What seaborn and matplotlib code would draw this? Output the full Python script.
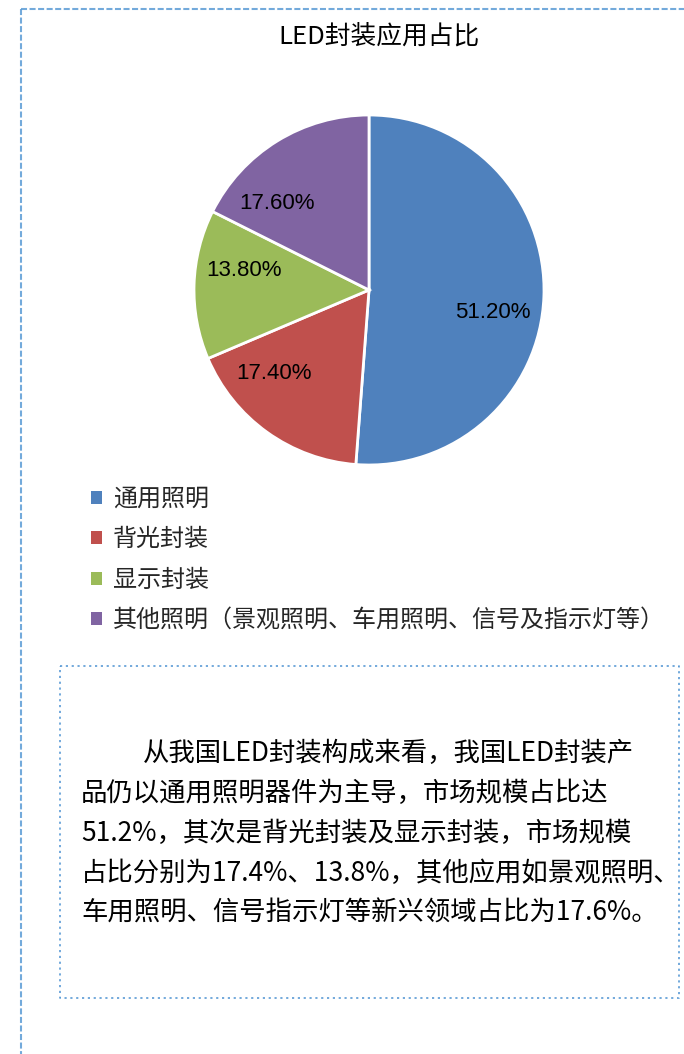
import numpy as np
import matplotlib
matplotlib.use("Agg")
import matplotlib.pyplot as plt
import seaborn as sns
from matplotlib.lines import Line2D
from matplotlib.patches import Patch

# ---------------- data ----------------
title = "LED封装应用占比"
categories = ["通用照明", "背光封装", "显示封装",
              "其他照明（景观照明、车用照明、信号及指示灯等）"]
shares = [51.2, 17.4, 13.8, 17.6]
colors = ["#4F81BD", "#C0504D", "#9BBB59", "#8064A2"]
paragraph_lines = [
    "从我国LED封装构成来看，我国LED封装产",
    "品仍以通用照明器件为主导，市场规模占比达",
    "51.2%，其次是背光封装及显示封装，市场规模",
    "占比分别为17.4%、13.8%，其他应用如景观照明、",
    "车用照明、信号指示灯等新兴领域占比为17.6%。",
]

# ---------------- style ----------------
sns.set_theme(style="white")
plt.rcParams['font.family'] = ['Noto Sans CJK SC', 'DejaVu Sans']

W, H = 684, 1054
fig = plt.figure(figsize=(W / 100, H / 100), dpi=100)
fig.patch.set_facecolor("white")


def fx(px):
    return px / W


def fy(py):
    return 1 - py / H


border_col = "#5B9BD5"

# outer dashed frame (top + left)
fig.add_artist(Line2D([fx(20.5), fx(684)], [fy(9), fy(9)], transform=fig.transFigure,
                      color=border_col, lw=1.5, ls=(0, (2.9, 1.2)), alpha=0.85))
fig.add_artist(Line2D([fx(20.5), fx(20.5)], [fy(9), fy(1054)], transform=fig.transFigure,
                      color=border_col, lw=1.5, ls=(0, (2.9, 1.2)), alpha=0.85))

# inner dotted box
bx0, by0, bx1, by1 = 60, 666, 679, 998
fig.add_artist(Line2D([fx(bx0), fx(bx1), fx(bx1), fx(bx0), fx(bx0)],
                      [fy(by0), fy(by0), fy(by1), fy(by1), fy(by0)],
                      transform=fig.transFigure, color=border_col, lw=1.2,
                      ls=(0, (1.3, 2.2))))

# ---------------- pie ----------------
cx, cy, r = 369, 290, 175
ax = fig.add_axes([fx(cx - r), fy(cy + r), 2 * r / W, 2 * r / H])
wedges, texts, autotexts = ax.pie(
    shares, colors=colors, startangle=90, counterclock=False,
    autopct='%.2f%%', pctdistance=0.72,
    wedgeprops=dict(edgecolor='white', linewidth=2),
    textprops=dict(fontsize=16, family=['Liberation Sans', 'DejaVu Sans'], color='black'))
ax.set_xlim(-1, 1)
ax.set_ylim(-1, 1)
ax.set_aspect('equal')
ax.axis('off')

label_shift_deg = [-8, -13, -7, 15]
for w, t, d in zip(wedges, autotexts, label_shift_deg):
    ang = np.deg2rad((w.theta1 + w.theta2) / 2 + d)
    t.set_position((0.72 * np.cos(ang), 0.72 * np.sin(ang)))
    t.set_ha('center')
    t.set_va('center')

# title
fig.text(fx(379), fy(37), title, ha='center', va='center', fontsize=18.5, color='black')

# legend
handles = [Patch(facecolor=c, edgecolor='none') for c in colors]
fig.legend(handles, categories, loc='upper left',
           bbox_to_anchor=(fx(91), fy(486)), bbox_transform=fig.transFigure,
           frameon=False, fontsize=17.3, handlelength=0.45, handleheight=0.45,
           handletextpad=0.45, labelspacing=0.6, borderpad=0, borderaxespad=0)

# paragraph
for i, line in enumerate(paragraph_lines):
    x = 143 if i == 0 else 81
    fig.text(fx(x), fy(753 + 40 * i), line, ha='left', va='center',
             fontsize=19, color='black')

fig.savefig("out.png", dpi=100, facecolor="white")
